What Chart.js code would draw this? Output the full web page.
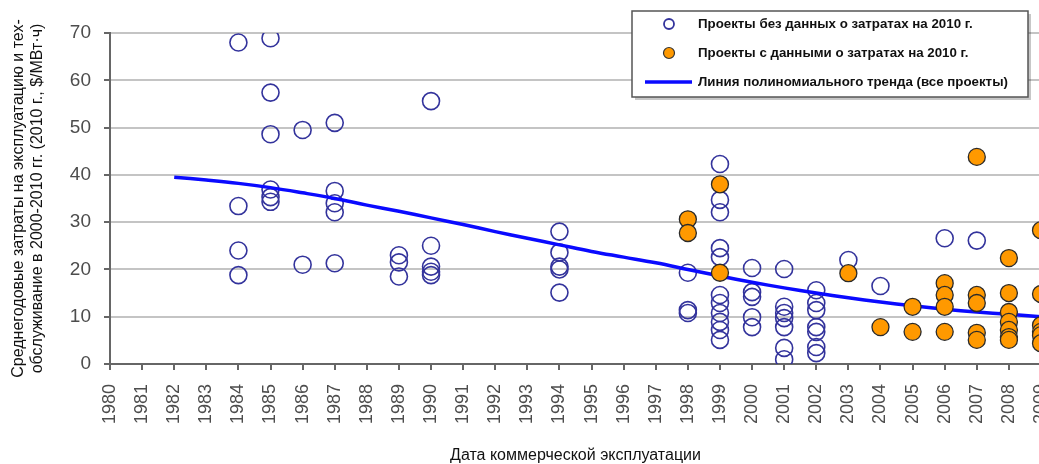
<!DOCTYPE html>
<html>
<head>
<meta charset="utf-8">
<script src="https://cdn.jsdelivr.net/npm/chart.js@4/dist/chart.umd.min.js"></script>
<style>
  html, body { margin: 0; padding: 0; overflow: hidden; background: #fff; }
</style>
</head>
<body>
<canvas id="chart" width="1041" height="464"></canvas>
<script>
// проекты без данных о затратах на 2010 г. [год, $/МВт·ч]
const noCostPoints = [
  [1984, 68.0], [1984, 33.4], [1984, 24.0], [1984, 18.8],
  [1985, 68.9], [1985, 57.4], [1985, 48.6], [1985, 36.9], [1985, 35.3], [1985, 34.3],
  [1986, 49.5], [1986, 21.0],
  [1987, 51.0], [1987, 36.6], [1987, 34.0], [1987, 32.1], [1987, 21.3],
  [1989, 23.0], [1989, 21.5], [1989, 18.5],
  [1990, 55.6], [1990, 25.0], [1990, 20.6], [1990, 19.5], [1990, 18.8],
  [1994, 28.0], [1994, 23.6], [1994, 20.6], [1994, 20.0], [1994, 15.1],
  [1998, 19.3], [1998, 11.4], [1998, 10.8],
  [1999, 42.3], [1999, 34.7], [1999, 32.1], [1999, 24.5], [1999, 22.6],
  [1999, 14.6], [1999, 12.9], [1999, 10.8], [1999, 8.9], [1999, 7.2], [1999, 5.1],
  [2000, 20.3], [2000, 15.2], [2000, 14.2], [2000, 9.9], [2000, 7.8],
  [2001, 20.1], [2001, 12.1], [2001, 10.8], [2001, 9.7], [2001, 7.8], [2001, 3.4], [2001, 1.0],
  [2002, 15.6], [2002, 12.9], [2002, 11.4], [2002, 7.8], [2002, 6.8], [2002, 3.6], [2002, 2.3],
  [2003, 22.0],
  [2004, 16.5],
  [2006, 26.6],
  [2007, 26.1]
];

// проекты с данными о затратах на 2010 г.
const costPoints = [
  [1998, 30.6], [1998, 27.7],
  [1999, 38.0], [1999, 19.3],
  [2003, 19.2],
  [2004, 7.8],
  [2005, 12.1], [2005, 6.8],
  [2006, 17.1], [2006, 14.6], [2006, 12.1], [2006, 6.8],
  [2007, 43.8], [2007, 14.6], [2007, 12.9], [2007, 6.6], [2007, 5.1],
  [2008, 22.4], [2008, 15.0], [2008, 11.0], [2008, 8.9], [2008, 7.2], [2008, 5.7], [2008, 5.1],
  [2009, 28.3], [2009, 14.8], [2009, 8.2], [2009, 6.8], [2009, 6.1], [2009, 4.4]
];

// полиномиальный тренд
const trendYears = [1982, 1983, 1984, 1985, 1986, 1987, 1988, 1989, 1990, 1991, 1992, 1993, 1994, 1995,
  1996, 1997, 1998, 1999, 2000, 2001, 2002, 2003, 2004, 2005, 2006, 2007, 2008, 2009];
const trendValues = [39.5, 38.9, 38.2, 37.3, 36.2, 35.0, 33.6, 32.3, 30.9, 29.5, 28.0, 26.6, 25.2, 23.8,
  22.6, 21.4, 20.0, 18.6, 17.3, 16.1, 15.0, 14.0, 13.1, 12.3, 11.6, 11.0, 10.5, 10.0];

const labels = [
  'Проекты без данных о затратах на 2010 г.',
  'Проекты с данными о затратах на 2010 г.',
  'Линия полиномиального тренда (все проекты)'
];
const yTitle = ['Среднегодовые затраты на эксплуатацию и тех-', 'обслуживание в 2000-2010 гг. (2010 г., $/МВт·ч)'];
const xTitle = 'Дата коммерческой эксплуатации';

const toXY = arr => arr.map(p => ({ x: p[0], y: p[1] }));

const navy = '#33339c';
const orange = '#ff9900';
const blue = '#0a0aff';
const font = '"Liberation Sans", Arial, sans-serif';

// рамка легенды как в оригинале
const legendBox = {
  id: 'legendBox',
  afterDraw(chart) {
    const ctx = chart.ctx;
    const bx = 632, by = 11, bw = 396, bh = 86;
    ctx.save();
    ctx.fillStyle = 'rgba(0,0,0,0.22)';
    ctx.fillRect(bx + 3, by + 3, bw, bh);
    ctx.fillStyle = '#fff';
    ctx.fillRect(bx, by, bw, bh);
    ctx.strokeStyle = '#555';
    ctx.lineWidth = 1.5;
    ctx.strokeRect(bx, by, bw, bh);

    const rows = [24, 53, 82];
    ctx.beginPath();
    ctx.arc(669, rows[0], 5, 0, Math.PI * 2);
    ctx.strokeStyle = navy;
    ctx.lineWidth = 1.8;
    ctx.stroke();

    ctx.beginPath();
    ctx.arc(669, rows[1], 5.5, 0, Math.PI * 2);
    ctx.fillStyle = orange;
    ctx.fill();
    ctx.strokeStyle = '#333';
    ctx.lineWidth = 1.2;
    ctx.stroke();

    ctx.beginPath();
    ctx.moveTo(645, rows[2]);
    ctx.lineTo(692, rows[2]);
    ctx.strokeStyle = blue;
    ctx.lineWidth = 3.5;
    ctx.stroke();

    ctx.fillStyle = '#111';
    ctx.font = 'bold 13.3px ' + font;
    ctx.textBaseline = 'middle';
    labels.forEach((t, i) => ctx.fillText(t, 698, rows[i]));
    ctx.restore();
  }
};

new Chart(document.getElementById('chart'), {
  type: 'scatter',
  data: {
    datasets: [
      {
        label: labels[0],
        data: toXY(noCostPoints),
        pointRadius: 8.5,
        pointBorderWidth: 1.6,
        borderColor: navy,
        backgroundColor: 'rgba(0,0,0,0)',
        order: 3
      },
      {
        type: 'line',
        label: labels[2],
        data: trendYears.map((y, i) => ({ x: y, y: trendValues[i] })),
        borderColor: blue,
        borderWidth: 3.5,
        pointRadius: 0,
        tension: 0.4,
        fill: false,
        order: 2
      },
      {
        label: labels[1],
        data: toXY(costPoints),
        pointRadius: 8.5,
        pointBorderWidth: 1.3,
        borderColor: '#2a2a2a',
        backgroundColor: orange,
        order: 1
      }
    ]
  },
  options: {
    responsive: false,
    animation: false,
    layout: { autoPadding: false, padding: { top: 33, left: 0, right: 0, bottom: 0 } },
    plugins: {
      legend: { display: false },
      tooltip: { enabled: false }
    },
    scales: {
      x: {
        type: 'linear',
        min: 1980,
        max: 2009,
        grid: { drawOnChartArea: false, drawTicks: true, tickLength: 6, color: '#666', lineWidth: 2 },
        border: { color: '#666', width: 2 },
        ticks: {
          stepSize: 1,
          autoSkip: false,
          minRotation: 90,
          maxRotation: 90,
          padding: 14,
          color: '#4d4d4d',
          font: { family: font, size: 18 },
          callback: v => String(v)
        },
        title: {
          display: true,
          text: xTitle,
          color: '#111',
          padding: 0,
          font: { family: font, size: 16, lineHeight: 1 }
        },
        afterFit: s => { s.height = 100; s.paddingLeft = 0; s.paddingRight = 0; }
      },
      y: {
        min: 0,
        max: 70,
        grid: { color: '#c4c4c4', lineWidth: 2, tickLength: 6, tickColor: '#666' },
        border: { color: '#666', width: 2 },
        ticks: {
          stepSize: 10,
          padding: 13,
          color: '#4d4d4d',
          font: { family: font, size: 19 }
        },
        title: {
          display: true,
          text: yTitle,
          color: '#111',
          padding: { top: 9.5, bottom: 0 },
          font: { family: font, size: 16, lineHeight: 1.19 }
        },
        afterFit: s => { s.width = 110; }
      }
    }
  },
  plugins: [legendBox]
});
</script>
</body>
</html>
